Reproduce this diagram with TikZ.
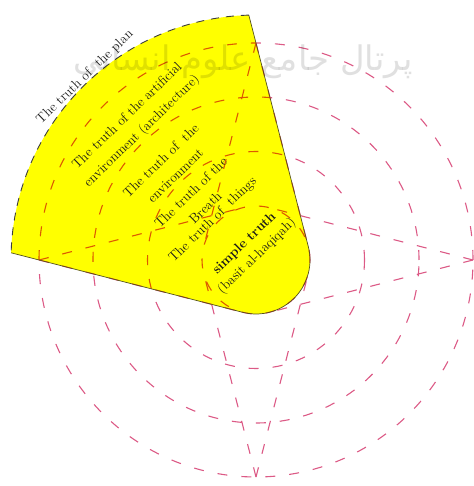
\documentclass[tikz,border=0pt]{standalone}
\usepackage{fontspec}
\newfontfamily\arabicfont[Script=Arabic]{DejaVu Sans}
\TeXXeTstate=1
\usetikzlibrary{calc}
\definecolor{petalyellow}{HTML}{FFFF00}
\definecolor{ringpink}{HTML}{DC5A86}
\definecolor{rimolive}{HTML}{55521E}
\definecolor{inkdark}{HTML}{1A1A1A}

% ring radii (bp) and the angles of the cones
\def\rInner{54}
\def\rTwo{108.5}
\def\rThree{163}
\def\rOuter{217}
\def\rPlan{245}
\def\tang{75.59}  % acos(rInner/rOuter): where a cone touches the inner ring
\def\spill{1.68}  % where the petal edges run out on the rim of the plan

\begin{document}
\begin{tikzpicture}[
    x=1bp, y=1bp,
    % every ring and cone is the same thin pink dash
    ring/.style={draw=ringpink, line width=1.1bp, dash pattern=on 10bp off 14bp},
    rim/.style={draw=rimolive, line width=0.7bp},
    planrim/.style={draw=inkdark!85, line width=0.9bp, dash pattern=on 8bp off 7bp},
    truth/.style={rotate=44, align=center, inner sep=0pt, text=inkdark,
                  font=\fontsize{13.5}{21}\selectfont},
    watermark/.style={text=black, opacity=0.12, inner sep=0pt,
                      font=\arabicfont\fontsize{34}{40}\selectfont},
]
\useasboundingbox (0,0) rectangle (474,486);

\coordinate (C) at (256,226);

%================= the four rings =================%
\draw[ring] (C) circle[radius=\rInner];
\draw[ring] (C) circle[radius=\rTwo];
\draw[ring] (C) circle[radius=\rThree];
\draw[ring] (C) circle[radius=\rOuter];

%================= the four cones, from the outer ring onto the inner one =================%
\foreach \a in {0,90,180,270}{
  \coordinate (apex\a) at ($(C)+(\a:\rOuter)$);
  \coordinate (touchL\a) at ($(C)+({\a+\tang}:\rInner)$);
  \coordinate (touchR\a) at ($(C)+({\a-\tang}:\rInner)$);
  \draw[ring] (apex\a) -- (touchL\a);
  \draw[ring] (apex\a) -- (touchR\a);
}

%================= the highlighted petal =================%
\coordinate (plW) at ($(C)+({180-\spill}:\rPlan)$);
\coordinate (plN) at ($(C)+({90+\spill}:\rPlan)$);
\coordinate (tW)  at ($(C)+({180+\tang}:\rInner)$);
\coordinate (tN)  at ($(C)+({90-\tang}:\rInner)$);
\begin{scope}[blend mode=multiply]
  \fill[petalyellow] (plW) -- (tW) arc[start angle=180+\tang, end angle=450-\tang, radius=\rInner]
        -- (plN) arc[start angle=90+\spill, end angle=180-\spill, radius=\rPlan] -- cycle;
\end{scope}
\draw[rim] (plW) -- (tW) arc[start angle=180+\tang, end angle=450-\tang, radius=\rInner] -- (plN);
\draw[planrim] (plN) arc[start angle=90+\spill, end angle=180-\spill, radius=\rPlan];

%================= the levels of truth =================%
\node[truth] (plan)        at (85,409)  {The truth of \ the plan};
\node[truth] (artificial)  at (135,362) {The truth of the artificial\\environment (architecture)};
\node[truth] (environment) at (168,318) {The truth of \ the\\environment};
\node[truth] (breath)      at (198,286) {The truth of the\\Breath};
\node[truth] (things)      at (213,266) {The truth of \ things};
\node[truth, font=\fontsize{13.5}{18}\selectfont] (simple) at (251,236)
      {\textbf{simple truth}\\(basit al-haqiqah)};

%================= watermark =================%
\node[watermark] (portal) at (243,424) {\beginR پرتال جامع علوم انسانی\endR};

\end{tikzpicture}
\end{document}
